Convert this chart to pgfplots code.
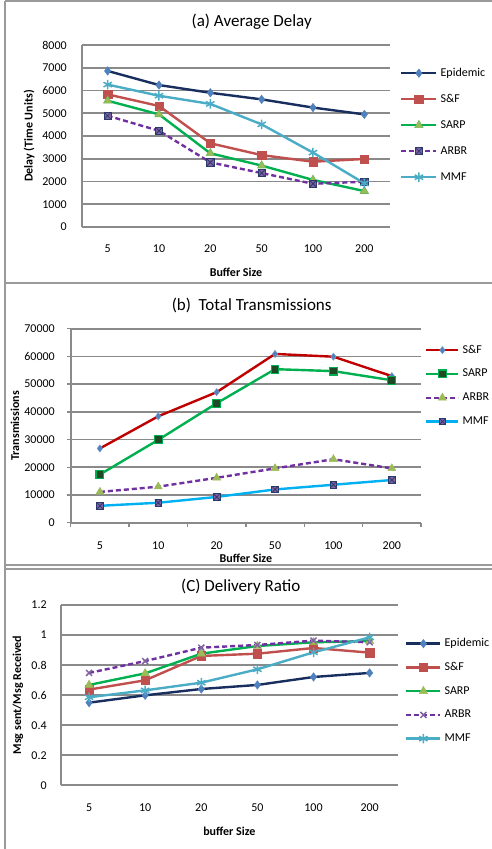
\documentclass[border=0pt]{standalone}
\usepackage{fontspec}
\setmainfont{Carlito}
\usepackage{pgfplots}
\pgfplotsset{compat=1.18}
\definecolor{gridc}{HTML}{8A8A8A}
\definecolor{bordc}{HTML}{9A9A9A}
\definecolor{navy}{HTML}{172E5E}
\definecolor{blueM}{HTML}{4F81BD}
\definecolor{redL}{HTML}{C0504D}
\definecolor{redD}{HTML}{C00000}
\definecolor{greenE}{HTML}{00B050}
\definecolor{olive}{HTML}{9BBB59}
\definecolor{purp}{HTML}{7030A0}
\definecolor{purpM}{HTML}{8064A2}
\definecolor{cyanE}{HTML}{4BACC6}
\definecolor{sky}{HTML}{00B0F0}
\definecolor{darkg}{HTML}{1F4A26}
\pgfdeclareplotmark{boxx}{%
  \pgfpathrectangle{\pgfqpoint{-\pgfplotmarksize}{-\pgfplotmarksize}}{\pgfqpoint{2\pgfplotmarksize}{2\pgfplotmarksize}}%
  \pgfusepathqfillstroke
  \pgfpathmoveto{\pgfqpoint{-\pgfplotmarksize}{-\pgfplotmarksize}}\pgfpathlineto{\pgfqpoint{\pgfplotmarksize}{\pgfplotmarksize}}%
  \pgfpathmoveto{\pgfqpoint{-\pgfplotmarksize}{\pgfplotmarksize}}\pgfpathlineto{\pgfqpoint{\pgfplotmarksize}{-\pgfplotmarksize}}%
  \pgfusepathqstroke}
\pgfplotsset{
  excel/.style={
    scale only axis, clip=false,
    axis x line=bottom, axis y line=left,
    axis line style={-, draw=gridc, line width=1.8pt},
    ymajorgrids, grid style={draw=gridc, line width=1.8pt},
    xmin=-0.5, xmax=5.5, xtick={0,1,2,3,4,5}, xticklabels={5,10,20,50,100,200},
    ymin=0,
    tick style={draw=none},
    tick label style={font=\fontsize{12}{14}\selectfont, inner sep=0pt},
    /pgf/number format/assume math mode=true,
    /pgf/number format/1000 sep={},
    scaled y ticks=false,
    label style={font=\bfseries\fontsize{12}{14}\selectfont},
    xlabel style={anchor=center},
    ylabel style={anchor=center, rotate=0},
    every axis title shift=0pt,
    title style={font=\fontsize{17}{20}\selectfont, anchor=center, yshift=0pt},
    legend cell align=left,
    legend style={draw=none, fill=none, font=\fontsize{12}{14}\selectfont, inner sep=0pt, column sep=3pt, anchor=north west,
      nodes={inner sep=0pt, text height=9pt, text depth=3pt}},
    every axis plot/.append style={line width=2.4pt},
  },
  lg/.style={legend image code/.code={\draw[mark repeat=2,mark phase=2,##1] plot coordinates {(0pt,0pt) (#1,0pt) (2*#1,0pt)};}},
}
\begin{document}
\begin{tikzpicture}
\path[use as bounding box] (0pt,0pt) rectangle (492pt,-849pt);
% panel frames
\draw[bordc, line width=1.6pt] (5pt,-1pt) -- (495pt,-1pt);
\draw[bordc, line width=2.4pt] (5pt,-283pt) -- (495pt,-283pt);
\draw[bordc, line width=1.6pt] (5pt,-565pt) -- (495pt,-565pt);
\draw[bordc, line width=1.6pt] (5pt,-569pt) -- (495pt,-569pt);
\draw[bordc, line width=1.6pt] (5pt,-1pt) -- (5pt,-852pt);

% (a) Average Delay
\begin{axis}[excel, lg=17.5pt,
  at={(82pt,-227pt)}, anchor=south west, width=308pt, height=182pt,
  ymax=8000, ytick={0,1000,...,8000},
  xticklabel style={anchor=center, yshift=-20pt},
  yticklabel style={anchor=east, xshift=-13pt},
  title={(a) Average Delay}, title style={at={(axis description cs:0.551,1.128)}},
  xlabel={Buffer Size}, xlabel style={at={(axis description cs:0.5,-0.2473)}},
  ylabel={Delay (Time Units)}, ylabel style={at={(axis description cs:-0.1721,0.5)}},
  legend style={at={(axis description cs:1.0325,0.879)}, row sep=14pt},
]
\addplot[navy, mark=diamond*, mark size=4.2pt, mark options={fill=blueM, draw=blueM, line width=0.5pt}]
  coordinates {(0,6860) (1,6240) (2,5900) (3,5610) (4,5250) (5,4950)};
\addplot[redL, mark=square*, mark size=4.2pt, mark options={fill=redL, draw=redL, line width=0.5pt}]
  coordinates {(0,5830) (1,5320) (2,3680) (3,3160) (4,2870) (5,2990)};
\addplot[greenE, mark=triangle*, mark size=4.8pt, mark options={fill=olive, draw=olive!70!greenE, line width=0.6pt}]
  coordinates {(0,5550) (1,4950) (2,3240) (3,2700) (4,2070) (5,1580)};
\addplot[purp, dash pattern=on 5pt off 3pt, mark=boxx, mark size=3.6pt, mark options={solid, fill=purpM, draw=navy!80!purpM, line width=0.8pt}]
  coordinates {(0,4890) (1,4230) (2,2840) (3,2370) (4,1900) (5,1990)};
\addplot[cyanE, mark=asterisk, mark size=4.8pt, mark options={draw=cyanE, line width=1.5pt}]
  coordinates {(0,6260) (1,5770) (2,5410) (3,4510) (4,3270) (5,1920)};
\legend{Epidemic,S\&F,SARP,ARBR,MMF}
\end{axis}

% (b) Total Transmissions
\begin{axis}[excel, lg=16pt,
  at={(70.7pt,-522.7pt)}, anchor=south west, width=350.3pt, height=194pt,
  ymax=70000, ytick={0,10000,...,70000},
  tick align=outside,
  major tick length=4pt, minor tick length=4pt,
  ytick style={draw=gridc, line width=1.4pt},
  major x tick style={draw=none},
  minor xtick={-0.5,0.5,1.5,2.5,3.5,4.5,5.5},
  minor x tick style={draw=gridc, line width=1.4pt},
  xticklabel style={anchor=center, yshift=-19.3pt},
  yticklabel style={anchor=east, xshift=-11.7pt},
  title={(b)~~Total Transmissions}, title style={at={(axis description cs:0.5167,1.1186)}},
  xlabel={Buffer Size}, xlabel style={at={(axis description cs:0.5,-0.182)}},
  ylabel={Transmissions}, ylabel style={at={(axis description cs:-0.159,0.5)}},
  legend style={at={(axis description cs:1.0114,0.9215)}, row sep=11.8pt},
]
\addplot[redD, mark=diamond*, mark size=3.6pt, mark options={fill=blueM, draw=blueM!80!white, line width=0.5pt}]
  coordinates {(0,26800) (1,38400) (2,47100) (3,60900) (4,59900) (5,52900)};
\addplot[greenE, mark=square*, mark size=3.9pt, mark options={fill=darkg, draw=greenE, line width=1.1pt}]
  coordinates {(0,17400) (1,29900) (2,43100) (3,55400) (4,54700) (5,51400)};
\addplot[purp, dash pattern=on 5pt off 3pt, mark=triangle*, mark size=4.6pt, mark options={solid, fill=olive, draw=olive, line width=0.5pt}]
  coordinates {(0,11100) (1,13000) (2,16200) (3,19600) (4,22900) (5,19600)};
\addplot[sky, mark=boxx, mark size=3.3pt, mark options={fill=purpM, draw=navy!80!purpM, line width=0.8pt}]
  coordinates {(0,6100) (1,7200) (2,9300) (3,12000) (4,13700) (5,15400)};
\legend{S\&F,SARP,ARBR,MMF}
\end{axis}

% (c) Delivery Ratio
\begin{axis}[excel, lg=17pt,
  at={(61pt,-785.3pt)}, anchor=south west, width=336.7pt, height=180.3pt,
  ymax=1.2, ytick={0,0.2,0.4,0.6,0.8,1,1.2},
  xticklabel style={anchor=center, yshift=-20.7pt},
  yticklabel style={anchor=east, xshift=-12pt},
  title={(C) Delivery Ratio}, title style={at={(axis description cs:0.534,1.1015)}},
  xlabel={buffer Size}, xlabel style={at={(axis description cs:0.5,-0.2535)}},
  ylabel={Msg sent/Msg Received}, ylabel style={at={(axis description cs:-0.1277,0.5)}},
  legend style={at={(axis description cs:1.0217,0.820)}, row sep=11.75pt},
]
\addplot[navy, mark=diamond*, mark size=4.2pt, mark options={fill=blueM, draw=blueM, line width=0.5pt}]
  coordinates {(0,0.550) (1,0.599) (2,0.641) (3,0.668) (4,0.721) (5,0.748)};
\addplot[redL, mark=square*, mark size=4.2pt, mark options={fill=redL, draw=redL, line width=0.5pt}]
  coordinates {(0,0.637) (1,0.699) (2,0.861) (3,0.876) (4,0.914) (5,0.883)};
\addplot[greenE, mark=triangle*, mark size=4.8pt, mark options={fill=olive, draw=olive, line width=0.5pt}]
  coordinates {(0,0.668) (1,0.745) (2,0.876) (3,0.927) (4,0.952) (5,0.960)};
\addplot[purp, dash pattern=on 5pt off 3pt, mark=x, mark size=4.2pt, mark options={solid, draw=purpM, line width=1.5pt}]
  coordinates {(0,0.748) (1,0.827) (2,0.916) (3,0.934) (4,0.963) (5,0.952)};
\addplot[cyanE, mark=asterisk, mark size=4.8pt, mark options={draw=cyanE, line width=1.5pt}]
  coordinates {(0,0.586) (1,0.632) (2,0.683) (3,0.772) (4,0.885) (5,0.985)};
\legend{Epidemic,S\&F,SARP,ARBR,MMF}
\end{axis}
\end{tikzpicture}
\end{document}
